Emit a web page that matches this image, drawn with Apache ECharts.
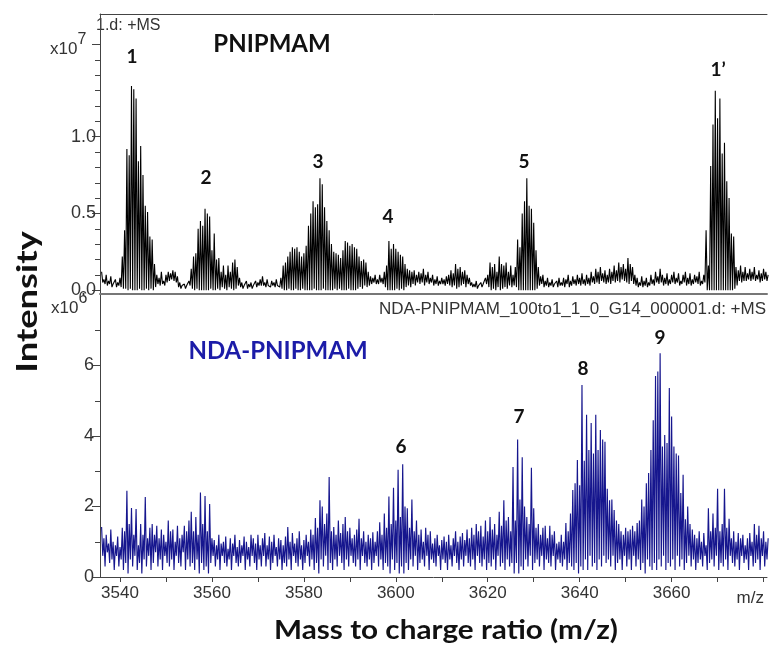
<!DOCTYPE html>
<html>
<head>
<meta charset="utf-8">
<script src="https://cdn.jsdelivr.net/npm/echarts/dist/echarts.min.js"></script>
<style>html,body{margin:0;padding:0;background:#fff;}#main{width:770px;height:652px;}</style>
</head>
<body>
<div id="main"></div>
<script>
// ---------------- data ----------------
const mzStart = 3536;      // m/z of first sample
const mzStep = 0.5;        // spacing of spike tops
const mzMin = 3535.65, mzMax = 3680.75;
const xLabelTicks = [3540, 3560, 3580, 3600, 3620, 3640, 3660];
const xMinorTicks = [3540, 3550, 3560, 3570, 3580, 3590, 3600, 3610, 3620, 3630, 3640, 3650, 3660, 3670, 3680];
const topYLabels = [0, 0.5, 1.0];
const topYMajorTicks = [0, 0.5, 1.0, 1.6];
const topYMinorTicks = [0.1,0.2,0.3,0.4,0.6,0.7,0.8,0.9,1.1,1.2,1.3,1.4,1.5];
const bottomYLabels = [0, 2, 4, 6];
const bottomYMinorTicks = [1, 3, 5, 7];

// PNIPMAM (x10^7), spike tops every 0.5 m/z from 3536.0
const topPeaks = [
 0.12,0.07,0.10,0.06,0.09,0.04,0.07,0.05,0.08,0.22,
 0.39,0.92,0.88,1.33,1.31,1.25,0.84,0.94,0.75,0.55,
 0.51,0.35,0.33,0.17,0.10,0.08,0.12,0.06,0.10,0.12,
 0.11,0.13,0.12,0.09,0.05,0.03,0.04,0.03,0.06,0.14,
 0.22,0.24,0.40,0.45,0.42,0.53,0.50,0.48,0.26,0.37,
 0.20,0.21,0.12,0.16,0.10,0.16,0.12,0.18,0.20,0.15,
 0.08,0.05,0.03,0.06,0.04,0.05,0.03,0.06,0.05,0.07,
 0.09,0.05,0.07,0.04,0.06,0.05,0.07,0.04,0.08,0.16,
 0.18,0.22,0.25,0.28,0.27,0.28,0.25,0.22,0.24,0.29,
 0.42,0.50,0.58,0.54,0.56,0.73,0.69,0.54,0.45,0.39,
 0.30,0.25,0.24,0.23,0.21,0.26,0.32,0.31,0.29,0.30,
 0.28,0.27,0.22,0.19,0.20,0.18,0.12,0.09,0.08,0.10,
 0.07,0.10,0.08,0.12,0.16,0.32,0.27,0.30,0.27,0.25,
 0.23,0.22,0.17,0.14,0.13,0.12,0.13,0.10,0.12,0.11,
 0.14,0.10,0.12,0.08,0.10,0.07,0.09,0.06,0.08,0.07,
 0.09,0.10,0.13,0.11,0.17,0.14,0.15,0.12,0.13,0.10,
 0.08,0.05,0.04,0.06,0.03,0.05,0.04,0.08,0.10,0.18,
 0.15,0.17,0.12,0.22,0.17,0.16,0.18,0.12,0.16,0.10,
 0.15,0.33,0.28,0.50,0.58,0.73,0.55,0.53,0.44,0.26,
 0.15,0.09,0.10,0.06,0.08,0.05,0.07,0.04,0.06,0.08,
 0.05,0.08,0.07,0.10,0.06,0.09,0.07,0.10,0.08,0.11,
 0.07,0.10,0.08,0.12,0.09,0.14,0.12,0.15,0.11,0.13,
 0.10,0.14,0.12,0.16,0.13,0.18,0.15,0.17,0.14,0.21,
 0.17,0.15,0.10,0.08,0.05,0.09,0.06,0.08,0.05,0.10,
 0.07,0.12,0.09,0.14,0.10,0.08,0.11,0.07,0.10,0.12,
 0.08,0.11,0.06,0.10,0.12,0.08,0.11,0.07,0.10,0.09,
 0.12,0.06,0.10,0.39,0.16,0.81,1.08,1.30,1.12,1.25,
 0.89,0.96,0.71,0.60,0.37,0.35,0.15,0.13,0.16,0.12,
 0.15,0.11,0.14,0.12,0.15,0.10,0.13,0.11,0.14,0.12,
 0.10
];
// PNIPMAM (x10^7), minima between spikes (3536.25, 3536.75, ...)
const topValleys = [
 0.05,0.04,0.03,0.04,0.02,0.03,0.02,0.03,0.02,0.01,
 0.01,0.00,0.01,0.00,0.00,0.00,0.01,0.00,0.00,0.01,
 0.00,0.01,0.00,0.02,0.04,0.03,0.04,0.03,0.05,0.06,
 0.07,0.06,0.05,0.02,0.01,0.02,0.01,0.02,0.03,0.01,
 0.00,0.01,0.00,0.00,0.00,0.00,0.00,0.01,0.00,0.00,
 0.01,0.00,0.02,0.01,0.00,0.02,0.01,0.00,0.01,0.03,
 0.02,0.01,0.02,0.01,0.02,0.01,0.02,0.02,0.03,0.03,
 0.03,0.02,0.03,0.02,0.03,0.02,0.03,0.02,0.01,0.00,
 0.00,0.01,0.00,0.00,0.01,0.00,0.00,0.01,0.00,0.00,
 0.00,0.00,0.01,0.00,0.00,0.00,0.01,0.00,0.00,0.00,
 0.00,0.01,0.00,0.01,0.00,0.00,0.00,0.01,0.00,0.00,
 0.00,0.01,0.02,0.01,0.03,0.02,0.03,0.04,0.05,0.04,
 0.04,0.05,0.04,0.02,0.00,0.00,0.00,0.00,0.01,0.00,
 0.01,0.00,0.02,0.03,0.02,0.04,0.03,0.05,0.04,0.05,
 0.03,0.05,0.04,0.05,0.03,0.04,0.03,0.04,0.04,0.03,
 0.04,0.03,0.02,0.03,0.01,0.02,0.03,0.04,0.02,0.04,
 0.03,0.02,0.02,0.01,0.02,0.02,0.03,0.04,0.02,0.00,
 0.01,0.00,0.02,0.00,0.01,0.02,0.01,0.03,0.02,0.03,
 0.02,0.00,0.00,0.00,0.00,0.00,0.00,0.00,0.00,0.01,
 0.03,0.04,0.02,0.03,0.02,0.03,0.02,0.03,0.02,0.03,
 0.03,0.02,0.04,0.02,0.03,0.04,0.03,0.04,0.03,0.04,
 0.03,0.04,0.03,0.05,0.04,0.05,0.04,0.06,0.05,0.04,
 0.05,0.04,0.06,0.05,0.06,0.05,0.07,0.06,0.05,0.04,
 0.06,0.04,0.03,0.02,0.03,0.02,0.03,0.02,0.03,0.04,
 0.03,0.05,0.04,0.05,0.03,0.04,0.03,0.04,0.05,0.04,
 0.05,0.03,0.04,0.05,0.03,0.04,0.03,0.04,0.05,0.04,
 0.03,0.04,0.05,0.00,0.00,0.00,0.00,0.00,0.00,0.00,
 0.00,0.00,0.00,0.00,0.00,0.01,0.03,0.06,0.05,0.06,
 0.06,0.07,0.06,0.07,0.06,0.07,0.05,0.06,0.07,0.06
];
// NDA-PNIPMAM (x10^6), spike tops every 0.5 m/z from 3536.0
const bottomPeaks = [
 1.42,1.10,1.20,0.95,1.35,1.00,0.90,1.15,0.85,1.40,
 1.30,2.45,1.50,1.96,1.20,1.93,0.90,1.50,1.20,2.27,
 1.10,1.40,1.50,1.20,1.45,1.10,1.35,1.20,1.00,1.60,
 1.30,1.35,1.00,1.45,1.10,1.20,1.45,1.30,1.60,1.85,
 1.30,1.70,1.20,2.40,1.50,2.30,1.30,2.07,1.10,1.05,
 0.90,1.20,0.95,1.00,1.15,0.80,1.10,0.95,1.20,0.85,
 1.05,0.90,1.15,1.00,0.85,1.20,1.10,0.95,1.20,0.90,
 1.10,1.25,0.90,1.15,1.00,1.20,0.85,1.10,1.05,0.90,
 1.15,1.42,1.00,1.25,0.95,1.10,1.30,0.90,1.05,1.20,
 1.00,1.35,1.20,1.67,1.40,2.18,2.00,1.50,1.80,2.84,
 1.30,1.42,1.20,1.60,1.25,1.50,1.70,1.30,1.40,1.10,
 1.20,1.35,1.65,1.10,1.30,1.00,1.20,1.10,1.27,1.00,
 1.30,1.55,1.20,1.80,1.40,2.28,1.50,2.53,1.60,3.04,
 1.70,3.20,2.00,1.95,1.40,2.20,1.30,1.60,1.20,1.35,
 1.00,1.40,1.20,1.30,0.95,1.10,1.20,0.90,1.05,1.15,
 1.00,1.20,0.90,1.10,1.30,1.00,1.15,1.25,1.05,1.35,
 1.10,1.40,1.20,1.50,1.30,1.45,1.15,1.60,1.30,1.70,
 1.35,1.50,1.20,1.85,1.45,2.18,1.60,1.70,1.30,3.12,
 1.60,3.90,2.20,3.40,2.00,1.70,1.50,3.10,1.95,1.40,
 1.50,1.20,1.40,1.45,1.10,1.45,1.20,1.30,0.95,1.00,
 1.20,1.00,1.53,1.30,1.80,2.47,2.66,3.32,2.60,5.45,
 3.30,4.60,3.60,4.37,3.50,4.60,3.60,4.17,3.90,3.84,
 2.50,2.18,2.20,1.90,1.60,1.50,1.30,1.20,1.40,1.30,
 1.35,1.45,1.30,1.53,1.60,2.20,2.00,2.66,2.95,3.60,
 4.45,5.70,5.83,6.35,3.70,4.03,3.80,5.36,4.55,3.70,
 3.50,3.45,2.38,2.90,1.64,2.00,1.50,1.35,1.20,1.10,
 1.30,1.00,1.25,0.90,1.95,1.30,1.80,1.40,2.50,1.30,
 1.50,2.50,1.40,1.65,1.10,1.30,1.00,1.25,1.10,1.20,
 0.90,1.10,1.25,1.00,1.50,1.20,1.45,1.10,1.30,1.00,
 1.10
];
// NDA-PNIPMAM (x10^6), minima between spikes
const bottomValleys = [
 0.6,0.3,0.7,0.4,0.5,0.2,0.6,0.3,0.5,0.2,
 0.4,0.1,0.5,0.3,0.6,0.2,0.4,0.1,0.5,0.3,
 0.6,0.2,0.4,0.7,0.3,0.5,0.2,0.6,0.4,0.3,
 0.5,0.2,0.6,0.4,0.3,0.7,0.2,0.5,0.3,0.4,
 0.2,0.5,0.1,0.4,0.2,0.3,0.1,0.4,0.6,0.3,
 0.5,0.2,0.6,0.4,0.3,0.5,0.2,0.6,0.4,0.3,
 0.4,0.6,0.2,0.5,0.3,0.6,0.4,0.2,0.5,0.3,
 0.6,0.3,0.5,0.2,0.4,0.6,0.3,0.5,0.2,0.4,
 0.3,0.5,0.2,0.6,0.4,0.3,0.5,0.2,0.4,0.6,
 0.3,0.5,0.2,0.4,0.1,0.5,0.3,0.6,0.2,0.4,
 0.2,0.5,0.3,0.6,0.4,0.2,0.5,0.3,0.6,0.4,
 0.3,0.5,0.2,0.6,0.4,0.3,0.5,0.2,0.4,0.6,
 0.3,0.5,0.2,0.4,0.3,0.1,0.5,0.2,0.4,0.1,
 0.3,0.1,0.4,0.2,0.5,0.3,0.6,0.2,0.4,0.5,
 0.3,0.6,0.2,0.5,0.4,0.3,0.6,0.2,0.5,0.4,
 0.2,0.5,0.3,0.6,0.4,0.2,0.5,0.3,0.6,0.4,
 0.3,0.5,0.2,0.6,0.4,0.3,0.5,0.2,0.4,0.3,
 0.5,0.2,0.6,0.3,0.4,0.2,0.5,0.3,0.4,0.1,
 0.4,0.1,0.3,0.2,0.5,0.3,0.6,0.2,0.4,0.5,
 0.3,0.6,0.2,0.5,0.4,0.3,0.6,0.2,0.5,0.4,
 0.3,0.5,0.2,0.4,0.3,0.2,0.4,0.1,0.3,0.2,
 0.5,0.2,0.6,0.3,0.4,0.2,0.5,0.3,0.6,0.4,
 0.5,0.3,0.6,0.2,0.4,0.5,0.2,0.6,0.3,0.5,
 0.2,0.6,0.3,0.5,0.2,0.4,0.1,0.5,0.3,0.2,
 0.4,0.2,0.5,0.3,0.6,0.2,0.4,0.3,0.5,0.2,
 0.6,0.3,0.5,0.2,0.4,0.6,0.3,0.5,0.2,0.4,
 0.5,0.3,0.6,0.2,0.4,0.5,0.3,0.6,0.2,0.4,
 0.3,0.5,0.2,0.6,0.4,0.3,0.5,0.2,0.6,0.4,
 0.5,0.2,0.6,0.3,0.4,0.5,0.2,0.6,0.3,0.5
];

// ------------- build series data -------------
function spectrum(peaks, valleys) {
  const out = [];
  for (let i = 0; i < peaks.length; i++) {
    const mz = mzStart + i * mzStep;
    out.push([mz, peaks[i]]);
    if (i < valleys.length) out.push([mz + mzStep / 2, valleys[i]]);
  }
  return out;
}

const labelFont = 'Liberation Sans, Arial, sans-serif';
const boldFont = 'Lato, Open Sans, sans-serif';
const axisColor = '#444';
const textColor = '#333';

const chart = echarts.init(document.getElementById('main'), null, { renderer: 'canvas' });

const baseX = { type: 'value', min: mzMin, max: mzMax, splitLine: { show: false } };
const numStyle = { fontSize: 19, fontWeight: 'bold', fontFamily: boldFont, fill: '#111', align: 'center', verticalAlign: 'middle' };
function num(text, x, y) { return { type: 'text', x: x, y: y, style: Object.assign({ text: text }, numStyle) }; }

chart.setOption({
  animation: false,
  backgroundColor: '#fff',
  grid: [
    { left: 100, right: 3, top: 14, height: 280 },
    { left: 100, right: 3, top: 295, height: 282 }
  ],
  xAxis: [
    Object.assign({}, baseX, { gridIndex: 0, position: 'bottom',
      axisLine: { show: true, onZero: false, lineStyle: { color: '#777', width: 2 } },
      axisTick: { show: false }, axisLabel: { show: false } }),
    Object.assign({}, baseX, { gridIndex: 0, position: 'top',
      axisLine: { show: true, onZero: false, lineStyle: { color: axisColor, width: 1 } },
      axisTick: { show: false }, axisLabel: { show: false } }),
    Object.assign({}, baseX, { gridIndex: 1, position: 'bottom',
      axisLine: { show: true, onZero: false, lineStyle: { color: axisColor, width: 1 } },
      axisTick: { show: true, length: 5, customValues: xMinorTicks, lineStyle: { color: axisColor } },
      axisLabel: { show: true, customValues: xLabelTicks, color: textColor, fontSize: 17,
        fontFamily: labelFont, margin: 8, formatter: v => String(v) } })
  ],
  yAxis: [
    { type: 'value', gridIndex: 0, position: 'left', min: -0.025, max: 1.8, splitLine: { show: false },
      axisLine: { show: true, onZero: false, lineStyle: { color: axisColor } },
      axisTick: { show: true, length: 8, customValues: topYMajorTicks, lineStyle: { color: axisColor } },
      axisLabel: { show: true, customValues: topYLabels, color: textColor, fontSize: 18, fontFamily: labelFont,
        margin: 4, formatter: v => v.toFixed(1) } },
    { type: 'value', gridIndex: 0, position: 'left', min: -0.025, max: 1.8, splitLine: { show: false },
      axisLine: { show: false },
      axisTick: { show: true, length: 5, customValues: topYMinorTicks, lineStyle: { color: axisColor } },
      axisLabel: { show: false } },
    { type: 'value', gridIndex: 1, position: 'left', min: 0, max: 8, splitLine: { show: false },
      axisLine: { show: true, onZero: false, lineStyle: { color: axisColor } },
      axisTick: { show: true, length: 8, customValues: bottomYLabels, lineStyle: { color: axisColor } },
      axisLabel: { show: true, customValues: bottomYLabels, color: textColor, fontSize: 18, fontFamily: labelFont,
        margin: 6 } },
    { type: 'value', gridIndex: 1, position: 'left', min: 0, max: 8, splitLine: { show: false },
      axisLine: { show: false },
      axisTick: { show: true, length: 5, customValues: bottomYMinorTicks, lineStyle: { color: axisColor } },
      axisLabel: { show: false } }
  ],
  series: [
    { type: 'line', name: 'PNIPMAM', xAxisIndex: 0, yAxisIndex: 0, data: spectrum(topPeaks, topValleys),
      showSymbol: false, symbol: 'none', clip: true, sampling: null,
      lineStyle: { color: '#000', width: 1.1 } },
    { type: 'line', name: 'NDA-PNIPMAM', xAxisIndex: 2, yAxisIndex: 2, data: spectrum(bottomPeaks, bottomValleys),
      showSymbol: false, symbol: 'none', clip: true, sampling: null,
      lineStyle: { color: '#16168e', width: 1.15 } }
  ],
  graphic: [
    { type: 'text', x: 96, y: 26, style: { text: '1.d: +MS', fontSize: 16, fontFamily: labelFont, fill: textColor, align: 'left', verticalAlign: 'middle' } },
    { type: 'text', x: 766, y: 309, style: { text: 'NDA-PNIPMAM_100to1_1_0_G14_000001.d: +MS', fontSize: 17, fontFamily: labelFont, fill: textColor, align: 'right', verticalAlign: 'middle' } },
    { type: 'text', x: 50, y: 45, style: { text: '{a|x10}{b|7}', rich: { a: { fontSize: 17, fontFamily: labelFont, fill: textColor, verticalAlign: 'bottom' }, b: { fontSize: 16, fontFamily: labelFont, fill: textColor, verticalAlign: 'top', padding: [0, 0, 10, 0] } }, align: 'left', verticalAlign: 'middle' } },
    { type: 'text', x: 51, y: 304, style: { text: '{a|x10}{b|6}', rich: { a: { fontSize: 17, fontFamily: labelFont, fill: textColor, verticalAlign: 'bottom' }, b: { fontSize: 16, fontFamily: labelFont, fill: textColor, verticalAlign: 'top', padding: [0, 0, 10, 0] } }, align: 'left', verticalAlign: 'middle' } },
    { type: 'text', x: 764, y: 598, style: { text: 'm/z', fontSize: 17, fontFamily: labelFont, fill: textColor, align: 'right', verticalAlign: 'middle' } },
    { type: 'text', x: 272, y: 44, style: { text: 'PNIPMAM', fontSize: 24, fontWeight: 'bold', fontFamily: boldFont, fill: '#111', align: 'center', verticalAlign: 'middle' } },
    { type: 'text', x: 278, y: 351, style: { text: 'NDA-PNIPMAM', fontSize: 24, fontWeight: 'bold', fontFamily: boldFont, fill: '#1c1ca8', align: 'center', verticalAlign: 'middle' } },
    { type: 'text', x: 446, y: 630, scaleX: 1.1, style: { text: 'Mass to charge ratio (m/z)', fontSize: 27, fontWeight: 'bold', fontFamily: boldFont, fill: '#111', align: 'center', verticalAlign: 'middle' } },
    { type: 'text', x: 28, y: 302, rotation: Math.PI / 2, scaleX: 1.25, style: { text: 'Intensity', fontSize: 29, fontWeight: 'bold', fontFamily: boldFont, fill: '#111', align: 'center', verticalAlign: 'middle' } },
    num('1', 132, 57), num('2', 206, 178), num('3', 318, 162), num('4', 388, 217), num('5', 524, 162),
    num('1’', 718, 70), num('6', 401, 447), num('7', 519, 417), num('8', 583, 369), num('9', 660, 338)
  ]
});
</script>
</body>
</html>
